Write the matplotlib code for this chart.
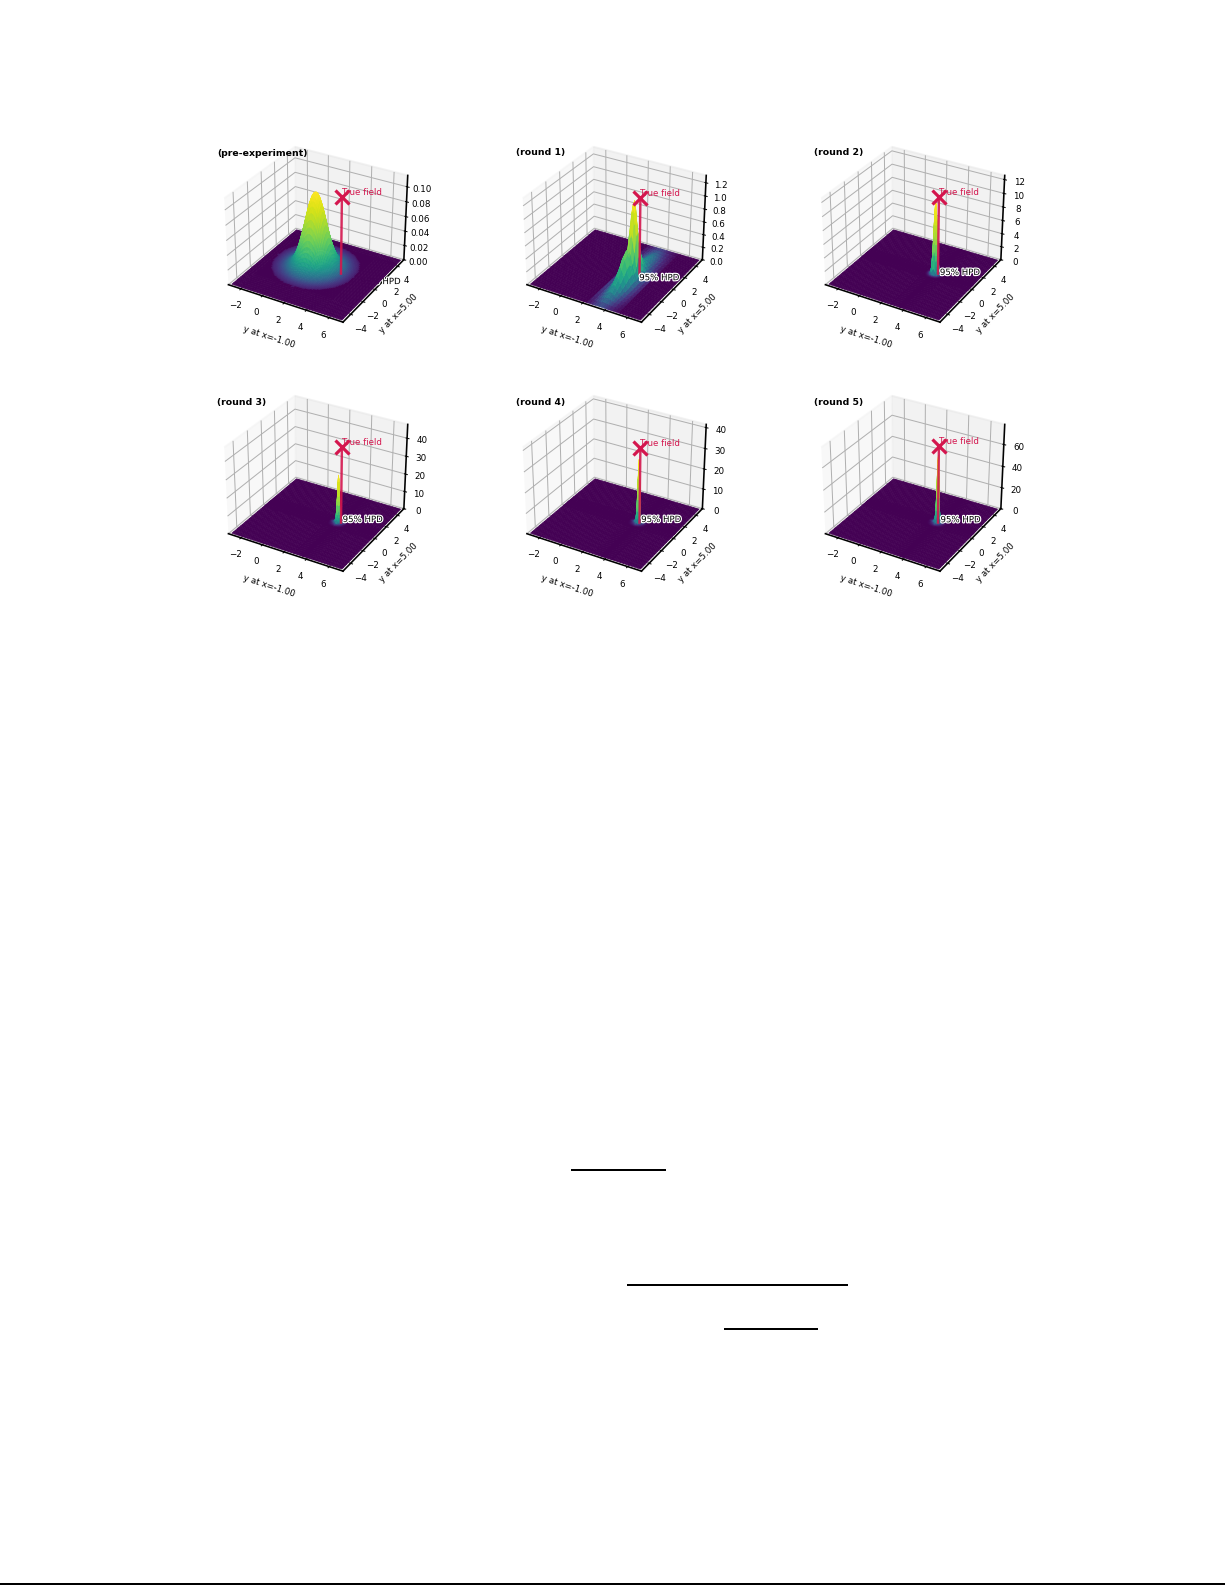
#!/usr/bin/env python3

import matplotlib
import matplotlib.patheffects as pe
import matplotlib.pyplot as plt
import numpy as np
from matplotlib.lines import Line2D

matplotlib.use('Agg')

W, H = 1225, 1585
DPI = 144
CRIMSON = '#d4164e'

titles = ['(pre-experiment)', '(round 1)', '(round 2)', '(round 3)', '(round 4)', '(round 5)']
x_ticks = [-2, 0, 2, 4, 6]
y_ticks = [-4, -2, 0, 2, 4]
z_ticks = [
    [0, 0.02, 0.04, 0.06, 0.08, 0.10],
    [0, 0.2, 0.4, 0.6, 0.8, 1.0, 1.2],
    [0, 2, 4, 6, 8, 10, 12],
    [0, 10, 20, 30, 40],
    [0, 10, 20, 30, 40],
    [0, 20, 40, 60],
]
z_fmt = ['%.2f', '%.1f', '%.0f', '%.0f', '%.0f', '%.0f']
z_tops = [0.115, 1.31, 12.6, 47.5, 41.5, 78.0]

true_x, true_y = 3.75, 0.72
stem_tops = [0.104, 1.17, 11.3, 42.0, 36.5, 70.0]
hpd_x = [5.68, 4.03, 3.8, 3.64, 3.64, 3.72]
hpd_y = [0.46, 0.17, 0.95, 1.2, 1.2, 1.2]

# pre-experiment density: half profile either side of the centre
prior_centre = (1.4, 0.7)
prior_peak = 0.101
prior_offsets = [0, 0.125, 0.25, 0.375, 0.5, 0.625, 0.75, 0.875, 1.0, 1.125, 1.25, 1.375,
                 1.5, 1.625, 1.75, 1.875, 2.0, 2.125, 2.25, 2.375, 2.5, 2.625, 2.75, 2.875,
                 3.0, 3.125, 3.25, 3.375, 3.5]
prior_profile = [1, 0.99, 0.96, 0.91, 0.85, 0.77, 0.69, 0.6, 0.52, 0.44, 0.36, 0.29,
                 0.23, 0.18, 0.13, 0.1, 0.07, 0.052, 0.037, 0.026, 0.016, 0.011, 0.0068, 0.0044,
                 0.0026, 0.0016, 0.0009, 0.0005, 0.0003]
prior_cutoff = 0.0003

# round 1 ridge: height along y, relative spread across x
ridge_y = [-5, -4.5, -4, -3.5, -3, -2.5, -2, -1.5, -1, -0.75, -0.5, -0.25, 0, 0.25, 0.5, 0.75,
           1, 1.5, 2, 2.5, 3, 3.5, 4, 4.5, 5]
ridge_height = [0.004, 0.016, 0.04, 0.08, 0.14, 0.22, 0.32, 0.44, 0.5, 0.42, 0.45, 0.7, 1.1,
                1.15, 0.85, 0.55, 0.35, 0.16, 0.1, 0.08, 0.06, 0.04, 0.02, 0.008, 0.002]
ridge_x = [2.3, 2.6, 2.8, 3.0, 3.2, 3.4, 3.5, 3.6, 3.8, 4.0, 4.2, 4.5, 4.8, 5.1]
ridge_spread = [0.003, 0.02, 0.1, 0.3, 0.6, 0.9, 1, 0.9, 0.6, 0.3, 0.1, 0.02, 0.003, 0]

# rounds 2-5: narrow spike
spike_centres = [(3.56, 0.58), (3.56, 0.58), (3.68, 0.67), (3.72, 0.7)]
spike_peaks = [10.5, 27, 31, 62]
spike_offsets = [0, 0.03, 0.06, 0.1, 0.15, 0.2, 0.3, 0.4, 0.5, 0.6, 0.7, 0.8]
spike_profiles = [
    [1, 0.98, 0.91, 0.77, 0.56, 0.36, 0.1, 0.017, 0.0017, 0.0001, 0.000004, 0],
    [1, 0.93, 0.75, 0.5, 0.25, 0.11, 0.03, 0.008, 0.0012, 0.0001, 0.000004, 0],
    [1, 0.93, 0.75, 0.5, 0.25, 0.11, 0.03, 0.008, 0.0012, 0.0001, 0.000004, 0],
    [1, 0.93, 0.75, 0.5, 0.25, 0.11, 0.03, 0.008, 0.0012, 0.0001, 0.000004, 0],
]


def mirror(offsets, values):
    off = np.array(offsets, dtype=float)
    val = np.array(values, dtype=float)
    return np.r_[-off[:0:-1], off], np.r_[val[:0:-1], val]


def nodes_with(floor, local):
    # flat floor nodes stay only outside the span of the readings
    local = np.asarray(local, dtype=float)
    keep = floor[(floor < local.min()) | (floor > local.max())]
    return np.union1d(keep, local)


def on_nodes(nodes, where, values):
    out = np.zeros(len(nodes))
    out[np.searchsorted(nodes, where)] = values
    return out


def surface_table(idx):
    floor = np.arange(-3, 7.01, 0.25)
    floor_y = np.arange(-5, 5.01, 0.25)
    if idx == 0:
        off, val = mirror(prior_offsets, prior_profile)
        px, py = off + prior_centre[0], off + prior_centre[1]
        xs, ys = nodes_with(floor, px), nodes_with(floor_y, py)
        z = np.outer(on_nodes(ys, py, val), on_nodes(xs, px, val))
        z[z < prior_cutoff] = 0
        return xs, ys, z * prior_peak, prior_peak
    if idx == 1:
        xs, ys = nodes_with(floor, ridge_x), nodes_with(floor_y, ridge_y)
        z = np.outer(on_nodes(ys, ridge_y, ridge_height), on_nodes(xs, ridge_x, ridge_spread))
        return xs, ys, z, max(ridge_height)
    off, val = mirror(spike_offsets, spike_profiles[idx - 2])
    cx, cy = spike_centres[idx - 2]
    px, py = off + cx, off + cy
    xs, ys = nodes_with(floor, px), nodes_with(floor_y, py)
    z = np.outer(on_nodes(ys, py, val), on_nodes(xs, px, val))
    return xs, ys, z * spike_peaks[idx - 2], spike_peaks[idx - 2]


def draw_panel(fig, idx):
    col, row = idx % 3, idx // 3
    side = 204
    left = 213 + col * 298.5
    top = 131 + row * 249
    ax = fig.add_axes([left / W, 1 - (top + side) / H, side / W, side / H], projection='3d')
    ax.computed_zorder = False
    ax.patch.set_alpha(0)

    xs, ys, z, peak = surface_table(idx)
    X, Y = np.meshgrid(xs, ys)
    # colours go by a compressed height, so the low foot of each peak still shows
    quad = (z[:-1, :-1] + z[1:, :-1] + z[:-1, 1:] + z[1:, 1:]) / 4
    colours = plt.cm.viridis((quad / peak) ** 0.3)
    ax.plot_surface(X, Y, z, facecolors=colours, rstride=1, cstride=1, shade=False,
                    linewidth=0.3, antialiased=True, zorder=2)

    ax.plot([true_x, true_x], [true_y, true_y], [0, stem_tops[idx]], color=CRIMSON, lw=1.2,
            alpha=0.9, zorder=4)
    ax.plot([true_x], [true_y], [stem_tops[idx]], marker='x', ms=7, mew=1.6, color=CRIMSON, zorder=5)
    ax.text(true_x, true_y, stem_tops[idx], 'True field', color=CRIMSON, fontsize=4.3,
            va='bottom', ha='left', zorder=6)

    # the first panel's label sits under the surface, only its tail shows
    ax.text(hpd_x[idx], hpd_y[idx], 0, '95% HPD', color='black', fontsize=4.3, va='center',
            ha='left', zorder=1 if idx == 0 else 6,
            path_effects=[pe.withStroke(linewidth=1.2, foreground='white')])

    ax.set_xlim(-3.2, 7.2)
    ax.set_ylim(-5.2, 5.2)
    ax.set_zlim(0, z_tops[idx])
    ax.set_xticks(x_ticks)
    ax.set_yticks(y_ticks)
    ax.set_zticks(z_ticks[idx])
    ax.set_zticklabels([z_fmt[idx] % v for v in z_ticks[idx]])
    ax.tick_params(labelsize=4.4, pad=-3.5)
    ax.set_xlabel('y at x=-1.00', fontsize=4.3, labelpad=-9)
    ax.set_ylabel('y at x=5.00', fontsize=4.3, labelpad=-10)
    for axis in (ax.xaxis, ax.yaxis, ax.zaxis):
        axis._axinfo['grid']['linewidth'] = 0.5
        axis._axinfo['axisline']['linewidth'] = 0.5
        axis._axinfo['tick']['linewidth'] = {True: 0.5, False: 0.3}
    ax.text2D((217 + col * 298.5 - left) / side, (top + side - 153 - row * 249) / side, titles[idx],
              transform=ax.transAxes, fontsize=4.7, fontweight='bold', va='center', ha='left')


fig = plt.figure(figsize=(W / DPI, H / DPI), dpi=DPI)
for i in range(len(titles)):
    draw_panel(fig, i)

# rules left over from the surrounding page
for x0, x1, y0, lw in [(572, 665, 1170, 1.0), (628, 847, 1285, 1.0), (725, 817, 1329, 1.0),
                       (0, 1225, 1584, 1.0)]:
    fig.add_artist(Line2D([x0 / W, x1 / W], [1 - y0 / H, 1 - y0 / H], color='black', lw=lw))

fig.savefig('out.png', dpi=DPI)
plt.close(fig)
